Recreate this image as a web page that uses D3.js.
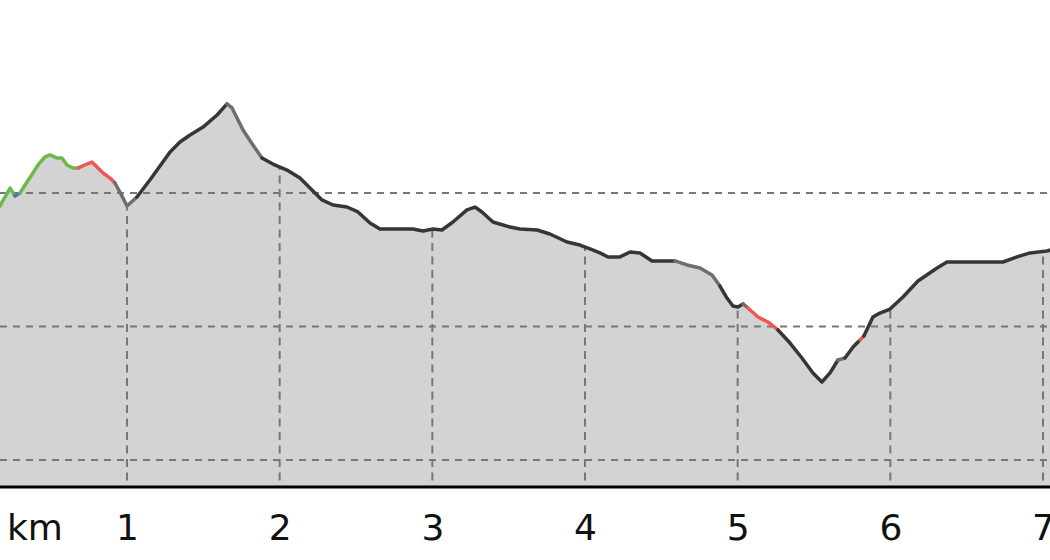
<!DOCTYPE html>
<html>
<head>
<meta charset="utf-8">
<script src="https://cdn.jsdelivr.net/npm/d3@7"></script>
<style>
html,body{margin:0;padding:0;background:#fff;}
svg{display:block;}
</style>
</head>
<body>
<svg id="chart" width="1050" height="560"></svg>
<script>
// distance (km)
const km = [0.135,0.168,0.234,0.266,0.299,0.345,0.384,0.417,0.463,0.496,0.542,0.574,0.607,0.646,0.679,0.725,0.771,0.803,0.843,0.889,0.921,0.967,1.000,1.065,1.150,1.282,1.347,1.413,1.498,1.590,1.655,1.688,1.760,1.825,1.884,1.956,2.048,2.133,2.179,2.277,2.349,2.441,2.513,2.592,2.657,2.873,2.939,3.004,3.063,3.135,3.227,3.279,3.325,3.397,3.509,3.574,3.686,3.770,3.882,3.967,4.033,4.098,4.151,4.229,4.295,4.360,4.439,4.590,4.668,4.753,4.832,4.884,4.930,4.969,5.002,5.035,5.067,5.133,5.198,5.264,5.343,5.421,5.493,5.552,5.605,5.657,5.703,5.756,5.801,5.827,5.886,5.932,5.998,6.083,6.181,6.306,6.371,6.738,6.830,6.915,7.026,7.078];
// elevation (m)
const elev = [485.8,490.3,503.7,497.8,500.0,508.2,515.0,521.0,527.0,528.5,526.2,526.2,521.0,518.7,518.7,521.0,523.2,519.5,515.0,511.2,507.5,497.8,490.3,497.0,509.7,530.7,538.2,543.4,549.4,558.4,566.7,563.7,547.2,536.0,526.2,521.7,517.2,511.2,506.0,494.8,491.0,489.5,485.8,477.5,473.0,473.0,471.5,473.0,472.3,478.3,487.3,489.5,485.8,478.3,474.5,473.0,472.3,469.3,463.3,461.0,458.1,455.1,452.1,452.1,455.8,455.1,449.1,449.1,446.1,443.8,438.6,430.3,421.3,415.4,414.6,416.9,413.9,407.1,403.4,397.4,387.6,376.4,365.2,358.4,365.2,374.9,376.4,384.6,389.9,392.9,407.1,410.1,413.1,422.1,434.1,443.8,448.3,448.3,452.1,455.1,456.6,458.1];
// gradient class of the segment starting at each point
const grade = ["g","g","g","b","g","g","g","g","g","g","g","g","g","g","r","r","r","r","r","r","m","m","m","d","d","d","d","d","d","d","m","m","m","m","d","d","d","d","d","d","d","d","d","d","d","d","d","d","d","d","d","d","d","d","d","d","d","d","d","d","d","d","d","d","d","d","d","m","m","m","m","d","d","d","d","m","r","r","r","d","d","d","d","d","d","m","d","d","r","d","d","d","d","d","d","d","d","d","d","d","d","d"];
const kmTicks = [1,2,3,4,5,6,7];
const elevGrid = [300,400,500];
const gradeColors = {g:"#6cb848", b:"#4a72c8", r:"#f05656", d:"#363636", m:"#6e6e6e"};

const svg = d3.select("#chart");
const x = d3.scaleLinear().domain([0,7]).range([-25.67,1043]);
const y = d3.scaleLinear().domain([300,500]).range([460,193]);
const baseY = 487;

const pts = km.map((k,i)=>({k, e:elev[i], g:grade[i]}));

const area = d3.area().x(d=>x(d.k)).y0(baseY).y1(d=>y(d.e)).curve(d3.curveLinear);
svg.append("defs").append("clipPath").attr("id","areaClip")
  .append("path").attr("d", area(pts));

svg.append("path").attr("d", area(pts)).attr("fill","#d3d3d3");

// vertical grid (clipped to profile area)
svg.append("g").attr("clip-path","url(#areaClip)")
  .selectAll("line").data(kmTicks).join("line")
  .attr("x1",d=>x(d)).attr("x2",d=>x(d))
  .attr("y1",0).attr("y2",baseY)
  .attr("stroke","#777").attr("stroke-width",2)
  .attr("stroke-dasharray","8,5.5");

// horizontal grid
svg.append("g").selectAll("line").data(elevGrid).join("line")
  .attr("x1",0).attr("x2",1050)
  .attr("y1",d=>y(d)).attr("y2",d=>y(d))
  .attr("stroke","#777").attr("stroke-width",2)
  .attr("stroke-dasharray","7,6");

// profile line, split into runs of the same grade class
const line = d3.line().x(d=>x(d.k)).y(d=>y(d.e));
const runs = [];
for (let i=0;i<pts.length-1;i++){
  const g = pts[i].g;
  if (runs.length && runs[runs.length-1].g===g) runs[runs.length-1].p.push(pts[i+1]);
  else runs.push({g, p:[pts[i],pts[i+1]]});
}
svg.append("g").selectAll("path").data(runs).join("path")
  .attr("d",d=>line(d.p))
  .attr("fill","none")
  .attr("stroke",d=>gradeColors[d.g])
  .attr("stroke-width",3.5)
  .attr("stroke-linejoin","round")
  .attr("stroke-linecap","round");

// x axis
const axis = d3.axisBottom(x).tickValues(kmTicks).tickSize(0).tickPadding(0).tickFormat(d3.format("d"));
const ag = svg.append("g").attr("transform",`translate(0,${baseY})`).call(axis);
ag.select(".domain").remove();
ag.selectAll("text").attr("dy",null).attr("y",53)
  .attr("font-family","DejaVu Sans").attr("font-size",36).attr("fill","#111");
svg.append("line").attr("x1",0).attr("x2",1050).attr("y1",baseY).attr("y2",baseY)
  .attr("stroke","#000").attr("stroke-width",3);
svg.append("text").attr("x",7).attr("y",540).text("km")
  .attr("font-family","DejaVu Sans").attr("font-size",36).attr("fill","#111");
</script>
</body>
</html>
